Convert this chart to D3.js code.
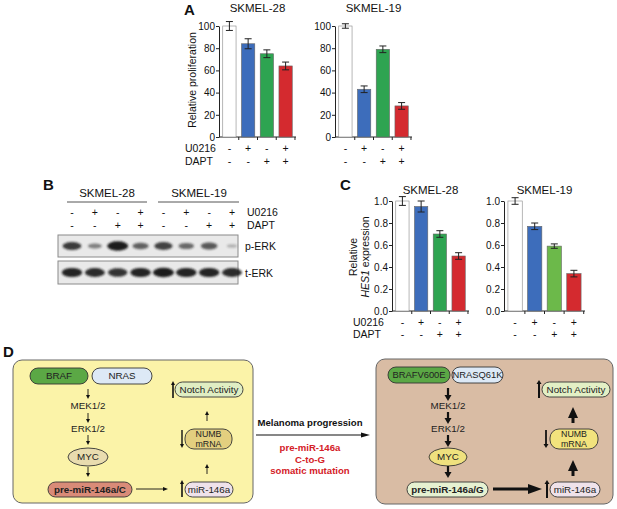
<!DOCTYPE html>
<html lang="en">
<head>
<meta charset="UTF-8">
<title>ERK / Notch / miR-146a figure</title>
<script src="https://cdnjs.cloudflare.com/ajax/libs/d3/7.9.0/d3.min.js"></script>
<style>
  body{margin:0;background:#fff;}
  svg{display:block;font-family:"Liberation Sans",Arial,Helvetica,sans-serif;-webkit-font-smoothing:antialiased;}
</style>
</head>
<body>
<div id="fig"></div>
<script>
/* ---------- data ---------- */
const conditions = ["ctrl","U0216","DAPT","both"];
const u0216Signs = ["-","+","-","+"];
const daptSigns  = ["-","-","+","+"];

// panel A: relative proliferation
const profTicks   = [0,20,40,60,80,100];
const profSK28    = [100, 84, 75, 64];
const profSK28Err = [4, 4.5, 3.5, 3.5];
const profSK19    = [100, 43, 79, 28];
const profSK19Err = [2, 3, 3, 3];

// panel C: relative HES1 expression
const hesTicks   = [0,0.2,0.4,0.6,0.8,1.0];
const hesSK28    = [1.0, 0.95, 0.70, 0.50];
const hesSK28Err = [0.04, 0.05, 0.03, 0.03];
const hesSK19    = [1.0, 0.77, 0.59, 0.34];
const hesSK19Err = [0.03, 0.03, 0.02, 0.03];

// panel B: western blot band strength per lane (0..1)
const blotLanes  = ["1","2","3","4","5","6","7","8"];
const blotU0216  = ["-","+","-","+","-","+","-","+"];
const blotDAPT   = ["-","-","+","+","-","-","+","+"];
const pErk = [0.8, 0.35, 1.0, 0.55, 0.75, 0.5, 0.6, 0.04];
const tErk = [0.95, 0.9, 0.85, 0.95, 1.0, 0.95, 0.95, 0.9];

const barColors  = ["#ffffff","#3d6dbb","#2ea451","#d42a2f"];
const barColors2 = ["#ffffff","#3d6dbb","#6cb94a","#d42a2f"];

/* ---------- canvas ---------- */
const W = 617, H = 509;
const svg = d3.select("#fig").append("svg").attr("width",W).attr("height",H);

function label(x,y,txt,size,opts={}){
  return svg.append("text").attr("x",x).attr("y",y)
    .attr("font-size",size).attr("text-anchor",opts.anchor||"start")
    .attr("font-weight",opts.bold?"700":"400")
    .attr("fill",opts.fill||"#111").text(txt);
}

/* ---------- bar chart helper ---------- */
function barChart(o){
  const g = svg.append("g");
  const y = d3.scaleLinear().domain([0,o.yMax]).range([o.yBot,o.yTop]);
  const x = d3.scaleBand().domain(conditions).range([o.x0,o.x1])
      .paddingInner(o.pi||0.29).paddingOuter(0.2);

  g.append("g").attr("transform",`translate(${o.x0},0)`)
    .call(d3.axisLeft(y).tickValues(o.ticks).tickSize(3).tickSizeOuter(0).tickFormat(o.fmt))
    .call(a=>a.selectAll("text").attr("font-size",o.fs||10).attr("fill","#111")
      .attr("font-family","Liberation Sans, Arial, sans-serif").attr("x",-4))
    .call(a=>a.selectAll("line,path").attr("stroke","#222"));

  // x axis: line plus ticks between bars
  g.append("line").attr("x1",o.x0).attr("x2",o.x1).attr("y1",o.yBot).attr("y2",o.yBot)
    .attr("stroke","#222");
  const half = x.step()*x.paddingInner()/2;
  g.selectAll(".xt").data(conditions).enter().append("line")
    .attr("x1",d=>x(d)+x.bandwidth()+half).attr("x2",d=>x(d)+x.bandwidth()+half)
    .attr("y1",o.yBot).attr("y2",o.yBot+3).attr("stroke","#222");

  g.selectAll(".bar").data(o.values).enter().append("rect")
    .attr("x",(d,i)=>x(conditions[i])).attr("y",d=>y(d))
    .attr("width",x.bandwidth()).attr("height",d=>o.yBot-y(d))
    .attr("fill",(d,i)=>o.colors[i]).attr("stroke",(d,i)=>i===0?"#888":"#666").attr("stroke-width",0.6);

  // error bars
  const eb = g.selectAll(".eb").data(o.values).enter().append("g");
  const cx = i=>x(conditions[i])+x.bandwidth()/2;
  eb.append("line").attr("x1",(d,i)=>cx(i)).attr("x2",(d,i)=>cx(i))
    .attr("y1",(d,i)=>y(d-o.errs[i])).attr("y2",(d,i)=>y(d+o.errs[i])).attr("stroke","#222");
  [-1,1].forEach(s=>{
    eb.append("line").attr("x1",(d,i)=>cx(i)-3.5).attr("x2",(d,i)=>cx(i)+3.5)
      .attr("y1",(d,i)=>y(d+s*o.errs[i])).attr("y2",(d,i)=>y(d+s*o.errs[i])).attr("stroke","#222");
  });

  // treatment sign rows
  [[u0216Signs,o.row1],[daptSigns,o.row2]].forEach(([signs,ry])=>{
    g.selectAll(null).data(signs).enter().append("text")
      .attr("x",(d,i)=>cx(i)).attr("y",ry).attr("text-anchor","middle")
      .attr("font-size",10.5).attr("fill","#111").text(d=>d);
  });

  label((o.x0+o.x1)/2, o.titleY, o.title, 11.5, {anchor:"middle"});
}

/* ---------- panel A ---------- */
label(184,15,"A",15,{bold:true});
barChart({values:profSK28, errs:profSK28Err, ticks:profTicks, yMax:100, fmt:d3.format("d"),
  x0:219, x1:296, yTop:26, yBot:137, colors:barColors, title:"SKMEL-28", titleY:12,
  row1:152, row2:165});
barChart({values:profSK19, errs:profSK19Err, ticks:profTicks, yMax:100, fmt:d3.format("d"),
  x0:335, x1:412, yTop:26, yBot:137, colors:barColors, title:"SKMEL-19", titleY:12,
  row1:152, row2:165});
label(185,152,"U0216",10.5);
label(185,165,"DAPT",10.5);
svg.append("text").attr("transform","translate(196,80) rotate(-90)")
  .attr("text-anchor","middle").attr("font-size",10.5).attr("fill","#111").text("Relative proliferation");

/* ---------- panel B ---------- */
label(43,190,"B",15,{bold:true});
label(107,197,"SKMEL-28",11.5,{anchor:"middle"});
label(199,197,"SKMEL-19",11.5,{anchor:"middle"});
svg.append("line").attr("x1",67).attr("x2",147).attr("y1",202).attr("y2",202).attr("stroke","#555");
svg.append("line").attr("x1",158).attr("x2",239).attr("y1",202).attr("y2",202).attr("stroke","#555");

const lane = d3.scalePoint().domain(blotLanes).range([72,232]);
[[blotU0216,216],[blotDAPT,229]].forEach(([signs,ry])=>{
  svg.selectAll(null).data(signs).enter().append("text")
    .attr("x",(d,i)=>lane(blotLanes[i])).attr("y",ry).attr("text-anchor","middle")
    .attr("font-size",10.5).attr("fill","#111").text(d=>d);
});
label(247,216,"U0216",10.5);
label(247,229,"DAPT",10.5);

const defs = svg.append("defs");
defs.append("filter").attr("id","blur").attr("x","-50%").attr("y","-50%").attr("width","200%").attr("height","200%")
  .append("feGaussianBlur").attr("stdDeviation",0.9);

function blot(vals, yTop, yBot, name){
  svg.append("rect").attr("x",58).attr("y",yTop).attr("width",180).attr("height",yBot-yTop)
    .attr("fill","#e9e9e9").attr("stroke","#8a8a8a").attr("stroke-width",1);
  const cy = (yTop+yBot)/2;
  svg.selectAll(null).data(vals).enter().append("ellipse")
    .attr("cx",(d,i)=>lane(blotLanes[i])).attr("cy",cy)
    .attr("rx",d=>5+5.5*d).attr("ry",d=>1.5+3.2*d)
    .attr("fill","#1a1a1a").attr("opacity",d=>0.25+0.75*d).attr("filter","url(#blur)");
  label(245,cy+4,name,10.5);
}
blot(pErk,235,257,"p-ERK");
blot(tErk,261,284,"t-ERK");

/* ---------- panel C ---------- */
label(340,190,"C",15,{bold:true});
const f1 = d3.format(".1f");
barChart({values:hesSK28, errs:hesSK28Err, ticks:hesTicks, yMax:1, fmt:f1, fs:10,
  x0:392, x1:469, yTop:201, yBot:311, colors:barColors, title:"SKMEL-28", titleY:194,
  row1:326, row2:338});
barChart({values:hesSK19, errs:hesSK19Err, ticks:hesTicks, yMax:1, fmt:f1, fs:10,
  x0:504, x1:585, yTop:201, yBot:311, colors:barColors2, title:"SKMEL-19", titleY:194,
  row1:326, row2:338, pi:0.27});
label(353,326,"U0216",10.5);
label(353,338,"DAPT",10.5);
svg.append("text").attr("transform","translate(357,257) rotate(-90)")
  .attr("text-anchor","middle").attr("font-size",10.5).attr("fill","#111").text("Relative");
const hl = svg.append("text").attr("transform","translate(369,257) rotate(-90)")
  .attr("text-anchor","middle").attr("font-size",10.5).attr("fill","#111");
hl.append("tspan").attr("font-style","italic").text("HES1");
hl.append("tspan").text(" expression");

/* ---------- panel D ---------- */
label(3,357,"D",15,{bold:true});
const dfs = 9.8;

function pill(x1,y1,x2,y2,fill,lines,opts={}){
  svg.append("rect").attr("x",x1).attr("y",y1).attr("width",x2-x1).attr("height",y2-y1)
    .attr("rx",Math.min(9,(y2-y1)/2)).attr("fill",fill).attr("stroke","#333").attr("stroke-width",0.9);
  const cx=(x1+x2)/2, cy=(y1+y2)/2, lh=opts.lh||9;
  lines.forEach((t,i)=>{
    label(cx, cy+3.3+(i-(lines.length-1)/2)*lh, t, opts.fs||dfs, {anchor:"middle",bold:opts.bold,fill:"#222"});
  });
}
function ellipseNode(cx,cy,rx,ry,fill,txt){
  svg.append("ellipse").attr("cx",cx).attr("cy",cy).attr("rx",rx).attr("ry",ry)
    .attr("fill",fill).attr("stroke","#333").attr("stroke-width",0.9);
  label(cx,cy+3.4,txt,dfs,{anchor:"middle",fill:"#222"});
}
function arrow(x1,y1,x2,y2,w,hl,hw){
  const dx=x2-x1, dy=y2-y1, L=Math.hypot(dx,dy), ux=dx/L, uy=dy/L;
  const bx=x2-ux*hl, by=y2-uy*hl;
  svg.append("line").attr("x1",x1).attr("y1",y1).attr("x2",bx+ux*0.5).attr("y2",by+uy*0.5)
    .attr("stroke","#111").attr("stroke-width",w);
  svg.append("polygon").attr("points",[[x2,y2],[bx-uy*hw/2,by+ux*hw/2],[bx+uy*hw/2,by-ux*hw/2]].map(p=>p.join(",")).join(" "))
    .attr("fill","#111");
}

// left box: earlier state
svg.append("rect").attr("x",13).attr("y",360).attr("width",240).attr("height",143).attr("rx",9)
  .attr("fill","#fbf3a8").attr("stroke","#666").attr("stroke-width",1);
pill(30,368,88,384,"#5ba845",["BRAF"]);
pill(92,368,152,384,"#dde9f6",["NRAS"]);
arrow(88,389,88,399,0.9,4,4);
label(88,409,"MEK1/2",dfs,{anchor:"middle",fill:"#222"});
arrow(88,413,88,423,0.9,4,4);
label(88,432,"ERK1/2",dfs,{anchor:"middle",fill:"#222"});
arrow(88,435,88,445,0.9,4,4);
ellipseNode(88,457,20,9,"#e9dcaf","MYC");
arrow(88,467,88,477,0.9,4,4);
pill(48,482,132,497,"#d98b78",["pre-miR-146a/C"],{bold:true});
arrow(136,489,168,489,0.9,5,4);
arrow(182,497,182,480,1.6,4,4);
pill(185,482,233,497,"#efe2ea",["miR-146a"]);
arrow(207,474,207,464,0.9,4,4);
pill(185,429,232,449,"#e3cf7f",["NUMB","mRNA"],{fs:8.8,lh:10});
arrow(182,430,182,448,1.4,4,4);
arrow(207,421,207,411,0.9,4,4);
pill(175,382,243,397,"#e0eec3",["Notch Activity"]);
arrow(173,398,173,381,1.6,4,4);

// middle: progression arrow
label(310,426,"Melanoma progression",9.6,{anchor:"middle",bold:true});
arrow(256,435,370,435,1.1,9,5);
["pre-miR-146a","C-to-G","somatic mutation"].forEach((t,i)=>
  label(310,451+i*11.5,t,9.6,{anchor:"middle",bold:true,fill:"#d42027"}));

// right box: progressed melanoma state
svg.append("rect").attr("x",376).attr("y",359).attr("width",237).attr("height",145).attr("rx",9)
  .attr("fill","#d9bca4").attr("stroke","#666").attr("stroke-width",1);
pill(388,367,450,383,"#5ba845",["BRAFV600E"],{fs:9.4});
pill(452,367,503,383,"#dde9f6",["NRASQ61K"],{fs:9.4});
arrow(448,388,448,401,2.2,6,7);
label(448,409,"MEK1/2",dfs,{anchor:"middle",fill:"#222"});
arrow(448,412,448,424,2.2,6,7);
label(448,432,"ERK1/2",dfs,{anchor:"middle",fill:"#222"});
arrow(448,435,448,447,2.2,6,7);
ellipseNode(448,457,19,9,"#efe17e","MYC");
arrow(448,466,448,478,2.2,6,7);
pill(407,482,488,497,"#e6f1d1",["pre-miR-146a/G"],{bold:true});
arrow(493,489,542,489,3,14,10);
arrow(547,498,547,480,2,4,5);
pill(550,482,600,497,"#efe2ea",["miR-146a"]);
arrow(573,476,573,460,3,11,10);
pill(550,429,598,449,"#f2e37d",["NUMB","mRNA"],{fs:8.8,lh:10});
arrow(546,430,546,448,1.8,4,5);
arrow(573,423,573,407,3,11,10);
pill(542,382,610,397,"#e3f0c5",["Notch Activity"]);
arrow(539,398,539,380,2,4,5);
</script>
</body>
</html>
